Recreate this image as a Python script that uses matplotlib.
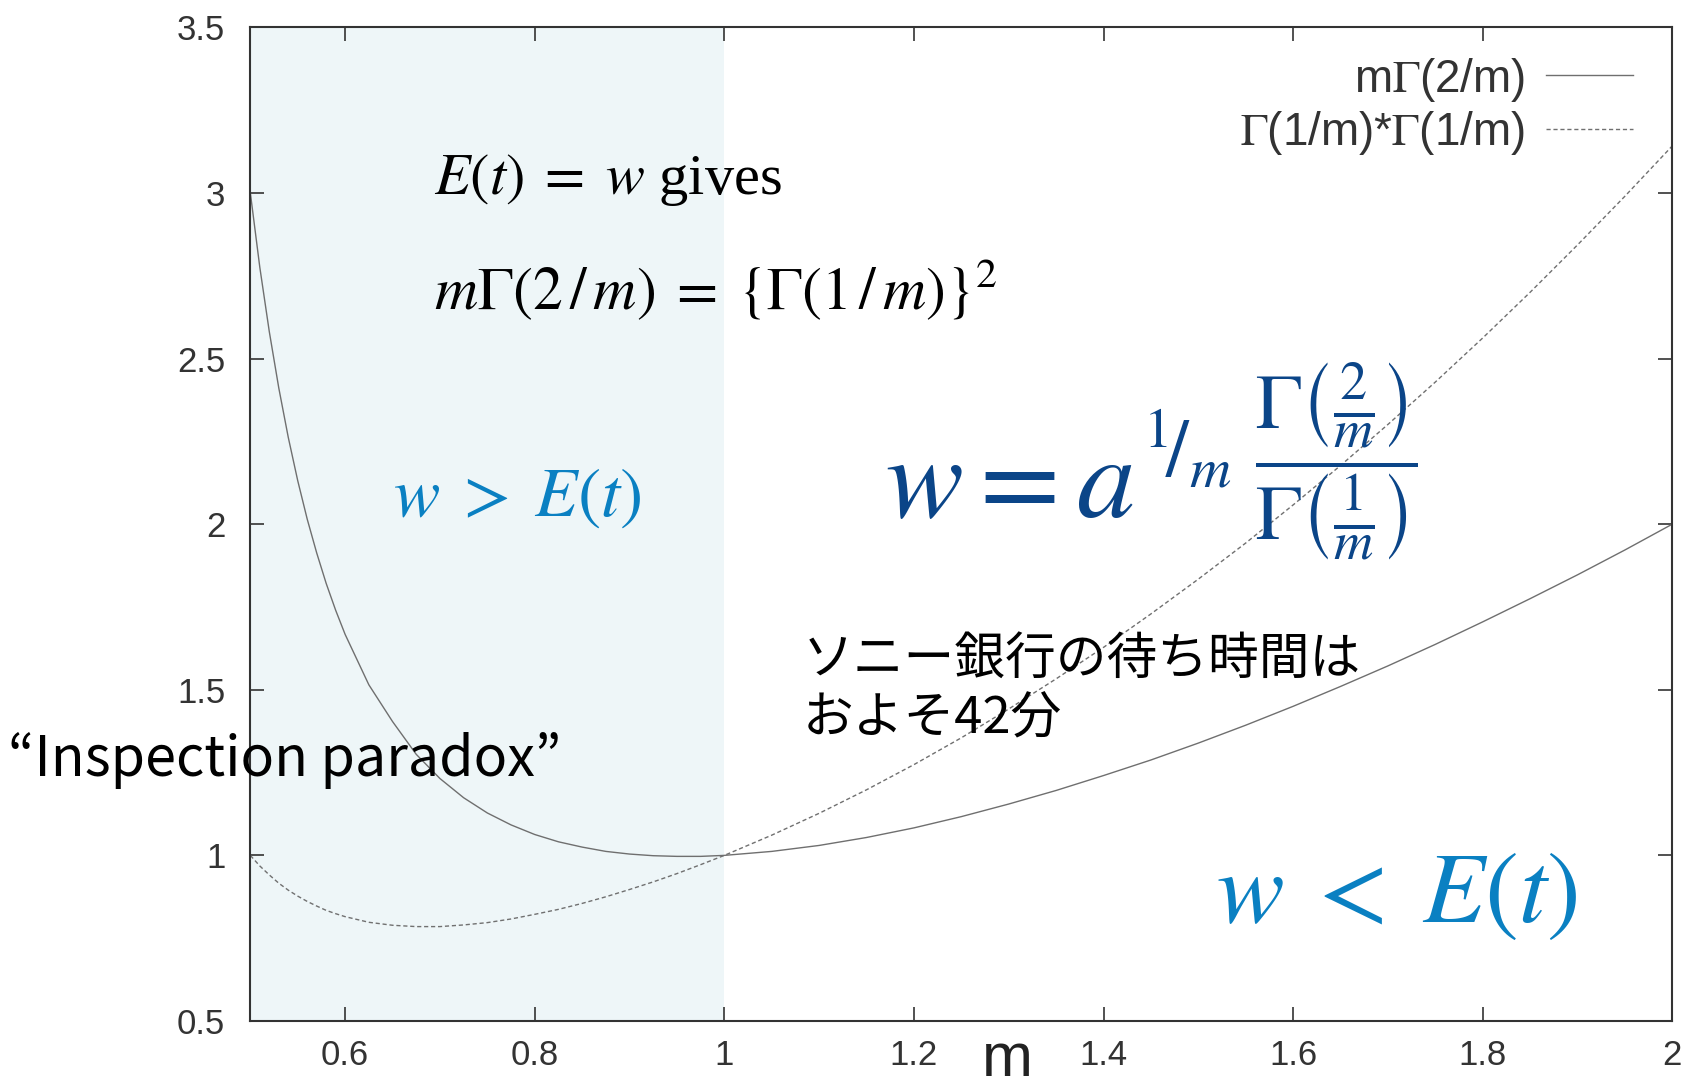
import matplotlib
matplotlib.use("Agg")
import matplotlib.pyplot as plt

# values
m_vals = [0.50, 0.51, 0.52, 0.53, 0.54, 0.55, 0.56, 0.57, 0.58, 0.59, 0.60, 0.625, 0.65, 0.675,
          0.70, 0.725, 0.75, 0.775, 0.80, 0.825, 0.85, 0.875, 0.90, 0.925, 0.95, 0.975, 1.00,
          1.05, 1.10, 1.15, 1.20, 1.25, 1.30, 1.35, 1.40, 1.45, 1.50, 1.55, 1.60, 1.65, 1.70,
          1.75, 1.80, 1.85, 1.90, 1.95, 2.00]
m_gamma_2m = [3.000, 2.775, 2.581, 2.411, 2.262, 2.131, 2.015, 1.913, 1.821, 1.740, 1.667, 1.515,
              1.404, 1.305, 1.232, 1.174, 1.128, 1.092, 1.063, 1.041, 1.025, 1.012, 1.004, 0.999,
              0.997, 0.997, 1.000, 1.012, 1.030, 1.054, 1.083, 1.117, 1.155, 1.196, 1.241, 1.288,
              1.339, 1.393, 1.450, 1.510, 1.572, 1.637, 1.705, 1.775, 1.847, 1.922, 2.000]
gamma_1m_sq = [1.000, 0.968, 0.941, 0.916, 0.895, 0.877, 0.861, 0.847, 0.834, 0.824, 0.815, 0.798,
               0.789, 0.785, 0.785, 0.790, 0.797, 0.808, 0.822, 0.837, 0.855, 0.875, 0.897, 0.920,
               0.945, 0.972, 1.000, 1.061, 1.127, 1.198, 1.274, 1.355, 1.442, 1.533, 1.628, 1.729,
               1.834, 1.943, 2.058, 2.177, 2.301, 2.429, 2.562, 2.700, 2.843, 2.990, 3.142]
legend_labels = [r"m$\Gamma$(2/m)", r"$\Gamma$(1/m)*$\Gamma$(1/m)"]
x_ticks = [0.6, 0.8, 1.0, 1.2, 1.4, 1.6, 1.8, 2.0]
x_tick_labels = ["0.6", "0.8", "1", "1.2", "1.4", "1.6", "1.8", "2"]
y_ticks = [0.5, 1.0, 1.5, 2.0, 2.5, 3.0, 3.5]
y_tick_labels = ["0.5", "1", "1.5", "2", "2.5", "3", "3.5"]
jp_note = "ソニー銀行の待ち時間は\nおよそ42分"

plt.rcParams["mathtext.fontset"] = "stix"
plt.rcParams["font.family"] = ["Liberation Sans", "DejaVu Sans"]

fig = plt.figure(figsize=(17.03, 10.90), dpi=100)
ax = fig.add_axes([0.147, 0.0633, 0.835, 0.9117])

ax.axvspan(0.5, 1.0, color="#eef6f8", zorder=0, lw=0)
ax.plot(m_vals, m_gamma_2m, color="#6f6f6f", lw=1.0, label=legend_labels[0])
ax.plot(m_vals, gamma_1m_sq, color="#707070", lw=1.0, dashes=(3, 2), label=legend_labels[1])

ax.set_xlim(0.5, 2.0)
ax.set_ylim(0.5, 3.5)
ax.set_xticks(x_ticks, x_tick_labels)
ax.set_yticks(y_ticks, y_tick_labels)
ax.tick_params(direction="in", length=10, width=1.2, color="#333333", labelsize=25,
               labelcolor="#333333", top=True, right=True)
ax.tick_params(axis="x", pad=13)
ax.tick_params(axis="y", pad=18)
for sp in ax.spines.values():
    sp.set_color("#333333")
    sp.set_linewidth(1.5)

leg = ax.legend(loc="upper right", bbox_to_anchor=(0.985, 0.99), frameon=False, markerfirst=False,
                fontsize=33, handlelength=1.9, handletextpad=0.45, labelspacing=0.12, borderaxespad=0)
for t in leg.get_texts():
    t.set_color("#333333")

serif = ["Liberation Serif", "DejaVu Serif"]
ax.text(0.694, 3.04, r"$E(t)\;=\;w$ gives", fontsize=42, family=serif, va="center", ha="left")
ax.text(0.694, 2.71, r"$m\Gamma(2\,/\,m)\;=\;\left\{\Gamma(1\,/\,m)\right\}^2$", fontsize=43,
        family=serif, va="center", ha="left")
ax.text(0.650, 2.08, r"$w\;>\;E(t)$", fontsize=50, color="#0a80c2", va="center", ha="left")
ax.text(1.169, 2.12, r"$w=a^{{}^{1}\!/_{m}}$", fontsize=84, color="#0b4588", va="center", ha="left")
ax.text(1.560, 2.19, r"$\dfrac{\Gamma\left(\frac{2}{m}\right)}{\Gamma\left(\frac{1}{m}\right)}$",
        fontsize=56, color="#0b4588", va="center", ha="left")
ax.text(1.519, 0.877, r"$w\;<\;E(t)$", fontsize=73, color="#0a80c2", va="center", ha="left")
ax.text(1.083, 1.50, jp_note, fontsize=36.5, family=["Noto Sans CJK JP"], va="center", ha="left",
        linespacing=1.2)
ax.text(0.244, 1.287, "“Inspection paradox”", fontsize=40, family=["Noto Sans CJK JP"],
        va="center", ha="left")
ax.text(1.299, 0.38, "m", fontsize=44, color="#222222", va="center", ha="center")

fig.savefig("out.png", dpi=100)
